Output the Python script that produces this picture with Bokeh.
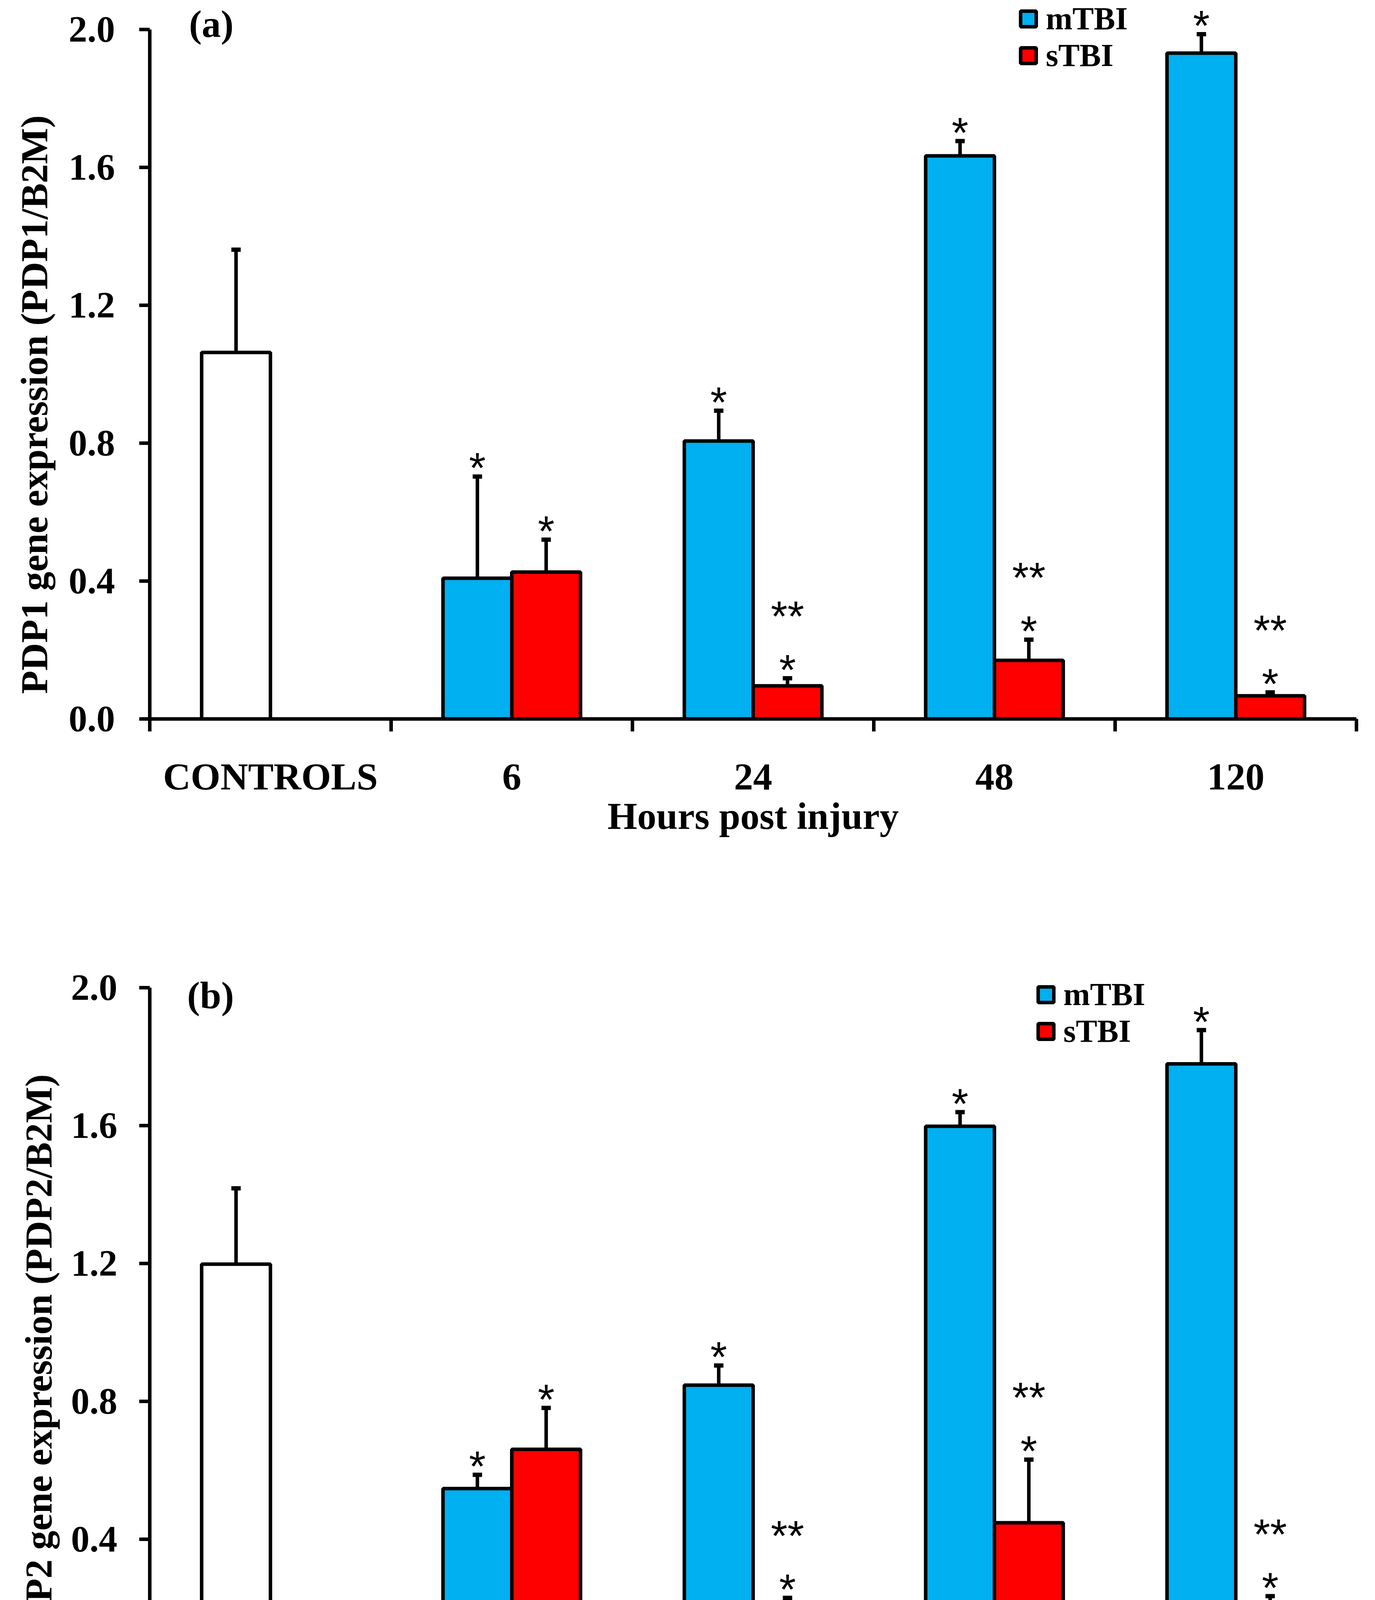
import numpy as np

from bokeh.plotting import figure
from bokeh.layouts import column
from bokeh.models import (ColumnDataSource, Range1d, FixedTicker, NumeralTickFormatter,
                          Whisker, TeeHead, Legend, LegendItem, Label, Title)
from bokeh.core.properties import value
from bokeh.embed import file_html
from bokeh.resources import INLINE

groups = ["CONTROLS", "6", "24", "48", "120"]
y_ticks = [0.0, 0.4, 0.8, 1.2, 1.6, 2.0]

# (a) PDP1 / B2M
pdp1_control = 1.063
pdp1_control_sd = 0.298
pdp1_mtbi = [0.408, 0.806, 1.633, 1.931]
pdp1_mtbi_sd = [0.295, 0.088, 0.043, 0.055]
pdp1_stbi = [0.426, 0.096, 0.170, 0.067]
pdp1_stbi_sd = [0.094, 0.022, 0.060, 0.010]

# (b) PDP2 / B2M
pdp2_control = 1.198
pdp2_control_sd = 0.220
pdp2_mtbi = [0.547, 0.847, 1.598, 1.779]
pdp2_mtbi_sd = [0.040, 0.057, 0.041, 0.098]
pdp2_stbi = [0.661, 0.183, 0.448, 0.190]
pdp2_stbi_sd = [0.120, 0.047, 0.183, 0.045]

# significance marks (same for both panels)
mtbi_marks = ["*", "*", "*", "*"]
stbi_marks = ["*", "*", "*", "*"]
stbi_marks2 = ["", "**", "**", "**"]

BLUE = "#00B0F0"
RED = "#FF0000"
SERIF = "Liberation Serif"
SANS = "Liberation Sans"
BAR_W = 0.285
LW = 9


def make_panel(tag, ylabel, control, control_sd, mtbi, mtbi_sd, stbi, stbi_sd, geo):
    centers = np.arange(len(groups)) + 0.5

    p = figure(width=3505, height=geo["height"],
               x_range=Range1d(0, len(groups)), y_range=Range1d(0, geo["ytop"]),
               output_backend="svg", toolbar_location=None,
               min_border_left=geo["left"], min_border_right=geo["right"],
               min_border_top=geo["top"], min_border_bottom=geo["bottom"])
    p.grid.visible = False
    p.outline_line_color = None
    p.background_fill_color = "white"

    src_c = ColumnDataSource(dict(x=[centers[0] - BAR_W / 2], top=[control],
                                  upper=[control + control_sd]))
    src_m = ColumnDataSource(dict(x=centers[1:] - BAR_W / 2, top=mtbi,
                                  upper=np.array(mtbi) + np.array(mtbi_sd),
                                  mark=mtbi_marks))
    src_s = ColumnDataSource(dict(x=centers[1:] + BAR_W / 2, top=stbi,
                                  upper=np.array(stbi) + np.array(stbi_sd),
                                  mark=stbi_marks, mark2=stbi_marks2))

    bars = {}
    for name, src, color in [("c", src_c, "white"), ("m", src_m, BLUE), ("s", src_s, RED)]:
        bars[name] = p.vbar(x="x", top="top", bottom=0, width=BAR_W, source=src,
                            fill_color=color, line_color="black", line_width=LW)
        p.add_layout(Whisker(source=src, base="x", lower="top", upper="upper",
                             line_color="black", line_width=LW, lower_head=None,
                             upper_head=TeeHead(size=24, line_width=11, line_color="black")))

    # asterisks above the error bars, "**" one step higher
    for src, col, off in [(src_m, "mark", -23), (src_s, "mark", -23), (src_s, "mark2", -160)]:
        p.text(x="x", y="upper", text=col, source=src, y_offset=off,
               text_font=value(SANS), text_font_size="110px",
               text_align="center", text_baseline="alphabetic", text_color="black")

    p.add_layout(Label(x=geo["tag_xy"][0], y=geo["tag_xy"][1], text=tag,
                       text_font=SERIF, text_font_style="bold", text_font_size="98px",
                       text_color="black", text_align="center", text_baseline="alphabetic"))

    legend = Legend(items=[LegendItem(label="mTBI", renderers=[bars["m"]]),
                           LegendItem(label="sTBI", renderers=[bars["s"]])],
                    location=geo["legend_loc"], orientation="vertical",
                    glyph_width=50, glyph_height=50, label_height=50, label_standoff=20,
                    spacing=-6, padding=0, margin=0,
                    label_text_font=SERIF, label_text_font_style="bold",
                    label_text_font_size="82px", label_text_color="black",
                    border_line_color=None, background_fill_alpha=0)
    p.add_layout(legend)

    # x axis: group labels at centres, tick marks at group boundaries
    xa = p.xaxis[0]
    xa.ticker = FixedTicker(ticks=list(centers), minor_ticks=list(range(len(groups) + 1)))
    xa.major_label_overrides = {float(c): g for c, g in zip(centers, groups)}
    xa.major_tick_line_color = None
    xa.major_tick_out = 0
    xa.major_tick_in = 0
    xa.minor_tick_out = 32
    xa.minor_tick_in = 0
    xa.minor_tick_line_width = LW
    xa.minor_tick_line_color = "black"
    xa.major_label_standoff = 61
    xa.axis_label = "Hours post injury"
    xa.axis_label_standoff = geo["xlabel_standoff"]

    ya = p.yaxis[0]
    ya.ticker = FixedTicker(ticks=y_ticks)
    ya.bounds = (y_ticks[0], y_ticks[-1])
    ya.formatter = NumeralTickFormatter(format="0.0")
    ya.major_tick_out = 27
    ya.major_tick_in = 0
    ya.major_tick_line_width = LW
    ya.major_tick_line_color = "black"
    ya.minor_tick_line_color = None
    ya.major_label_standoff = geo["ytick_standoff"]

    # y label as a side title, started a little above the frame bottom
    p.add_layout(Title(text=ylabel, align="left", offset=geo["ylabel_offset"],
                       standoff=geo["ylabel_standoff"], text_font=SERIF,
                       text_font_style="bold", text_font_size="98px",
                       text_color="black"), "left")

    for ax in (xa, ya):
        ax.axis_line_width = LW
        ax.axis_line_color = "black"
        ax.major_label_text_font = SERIF
        ax.major_label_text_font_style = "bold"
        ax.major_label_text_color = "black"
        ax.axis_label_text_font = SERIF
        ax.axis_label_text_font_style = "bold"
        ax.axis_label_text_font_size = "98px"
        ax.axis_label_text_color = "black"
    xa.major_label_text_font_size = "98px"
    ya.major_label_text_font_size = "95px"
    return p


geo_a = dict(height=2465, ytop=2.08, left=381, right=32, top=4, bottom=625,
             tag_xy=(0.255, 2.016), legend_loc=(2225, 1651),
             xlabel_standoff=-10, ytick_standoff=62, ylabel_standoff=62, ylabel_offset=64)
geo_b = dict(height=2155, ytop=2.06, left=364, right=4, top=10, bottom=327,
             tag_xy=(0.252, 1.978), legend_loc=(2270, 1606),
             xlabel_standoff=9, ytick_standoff=56, ylabel_standoff=51, ylabel_offset=62)

pa = make_panel("(a)", "PDP1 gene expression (PDP1/B2M)", pdp1_control, pdp1_control_sd,
                pdp1_mtbi, pdp1_mtbi_sd, pdp1_stbi, pdp1_stbi_sd, geo_a)
pb = make_panel("(b)", "PDP2 gene expression (PDP2/B2M)", pdp2_control, pdp2_control_sd,
                pdp2_mtbi, pdp2_mtbi_sd, pdp2_stbi, pdp2_stbi_sd, geo_b)

layout = column(pa, pb)
open("out.html", "w").write(file_html(layout, INLINE))
